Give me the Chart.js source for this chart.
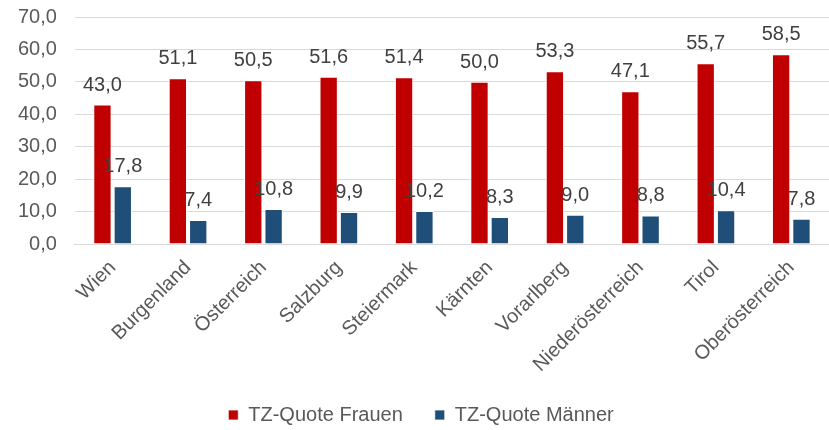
<!DOCTYPE html>
<html>
<head>
<meta charset="utf-8">
<script src="https://cdn.jsdelivr.net/npm/chart.js@4"></script>
<style>
  html, body { margin: 0; padding: 0; background: #fff; }
  #wrap { width: 829px; height: 430px; }
</style>
</head>
<body>
<div id="wrap"><canvas id="chart"></canvas></div>
<script>
// Daten
const bundeslaender = ['Wien', 'Burgenland', 'Österreich', 'Salzburg', 'Steiermark', 'Kärnten', 'Vorarlberg', 'Niederösterreich', 'Tirol', 'Oberösterreich'];
const quoteFrauen = [43.0, 51.1, 50.5, 51.6, 51.4, 50.0, 53.3, 47.1, 55.7, 58.5];
const quoteMaenner = [17.8, 7.4, 10.8, 9.9, 10.2, 8.3, 9.0, 8.8, 10.4, 7.8];
const yTicks = [0, 10, 20, 30, 40, 50, 60, 70];

const schrift = '"Liberation Sans", Arial, sans-serif';
const fmt = v => v.toFixed(1).replace('.', ',');

// Werte über den Balken
const barLabels = {
    id: 'barLabels',
    afterDatasetsDraw(chart) {
        const ctx = chart.ctx;
        ctx.save();
        ctx.font = '20px ' + schrift;
        ctx.fillStyle = '#404040';
        ctx.textAlign = 'center';
        ctx.textBaseline = 'alphabetic';
        chart.data.datasets.forEach((ds, i) => {
            chart.getDatasetMeta(i).data.forEach((bar, j) => {
                ctx.fillText(fmt(ds.data[j]), bar.x, bar.y - 14);
            });
        });
        ctx.restore();
    }
};

// Legende: feste Höhe, damit sie unten sitzt
const legendHoehe = {
    id: 'legendHoehe',
    beforeInit(chart) {
        const fit = chart.legend.fit;
        chart.legend.fit = function () {
            fit.call(this);
            this.height = 56;
        };
    }
};

new Chart(document.getElementById('chart').getContext('2d'), {
    type: 'bar',
    data: {
        labels: bundeslaender,
        datasets: [{
            label: 'TZ-Quote Frauen',
            data: quoteFrauen,
            backgroundColor: '#c00000',
            borderColor: '#ffffff',
            borderWidth: { left: 1, right: 1, top: 1 },
            barPercentage: 0.9,
            categoryPercentage: 0.54
        }, {
            label: 'TZ-Quote Männer',
            data: quoteMaenner,
            backgroundColor: '#1f4e79',
            borderColor: '#ffffff',
            borderWidth: { left: 1, right: 1, top: 1 },
            barPercentage: 0.9,
            categoryPercentage: 0.54
        }]
    },
    options: {
        responsive: true,
        maintainAspectRatio: false,
        animation: false,
        layout: { padding: { top: 0, right: 0, left: 13, bottom: 1 } },
        scales: {
            y: {
                min: 0,
                max: 70,
                afterBuildTicks: axis => { axis.ticks = yTicks.map(v => ({ value: v })); },
                ticks: {
                    callback: v => fmt(v),
                    color: '#595959',
                    font: { size: 20, family: schrift },
                    padding: 5
                },
                grid: { color: '#d9d9d9', drawTicks: true, tickLength: 13, tickColor: 'rgba(0,0,0,0)' },
                border: { display: false }
            },
            x: {
                afterFit: s => { s.height = 129; s.paddingLeft = 0; s.paddingRight = 0; },
                ticks: {
                    color: '#595959',
                    font: { size: 20, family: schrift },
                    maxRotation: 45,
                    minRotation: 45,
                    padding: 12
                },
                grid: { display: false, drawTicks: false },
                border: { color: '#d9d9d9', width: 1 }
            }
        },
        plugins: {
            legend: {
                position: 'bottom',
                labels: {
                    color: '#595959',
                    font: { size: 20, family: schrift },
                    boxWidth: 10,
                    boxHeight: 10,
                    padding: 32,
                    useBorderRadius: false
                }
            },
            tooltip: { enabled: false }
        }
    },
    plugins: [barLabels, legendHoehe]
});
</script>
</body>
</html>
